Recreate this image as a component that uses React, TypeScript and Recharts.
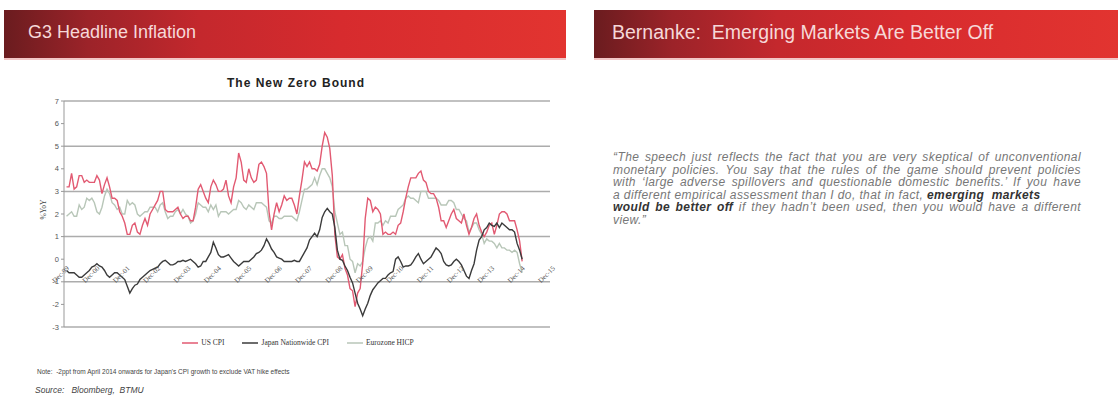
import { LineChart, Line, XAxis, YAxis, CartesianGrid } from 'recharts';

// x axis labels, one per year
const tickLabels = [
  'Dec-99', 'Dec-00', 'Dec-01', 'Dec-02', 'Dec-03', 'Dec-04', 'Dec-05', 'Dec-06', 'Dec-07',
  'Dec-08', 'Dec-09', 'Dec-10', 'Dec-11', 'Dec-12', 'Dec-13', 'Dec-14', 'Dec-15',
];
const yTicks = [-3, -2, -1, 0, 1, 2, 3, 4, 5, 6, 7];

// monthly %YoY, Jan-00 .. Jan-15
const usCpi = [
  3.2, 3.2, 3.8, 3.1, 3.2, 3.7, 3.7, 3.4, 3.5, 3.4, 3.4, 3.4,
  3.7, 3.5, 2.9, 3.3, 3.6, 3.2, 2.7, 2.7, 2.6, 2.1, 1.9, 1.6,
  1.1, 1.1, 1.5, 1.6, 1.2, 1.1, 1.5, 1.8, 1.5, 2.0, 2.2, 2.4,
  2.6, 3.0, 3.0, 2.2, 2.1, 2.1, 2.1, 2.2, 2.3, 2.0, 1.8, 1.9,
  1.9, 1.7, 1.7, 2.3, 3.1, 3.3, 3.0, 2.7, 2.5, 3.2, 3.5, 3.3,
  3.0, 3.0, 3.1, 3.5, 2.8, 2.5, 3.2, 3.6, 4.7, 4.3, 3.5, 3.4,
  4.0, 3.6, 3.4, 3.5, 4.2, 4.3, 4.1, 3.8, 2.1, 1.3, 2.0, 2.5,
  2.1, 2.4, 2.8, 2.6, 2.7, 2.7, 2.4, 2.0, 2.8, 3.5, 4.3, 4.1,
  4.3, 4.0, 4.0, 3.9, 4.2, 5.0, 5.6, 5.4, 4.9, 3.7, 1.1, 0.1,
  0.0, 0.2, -0.4, -0.7, -1.3, -1.4, -2.1, -1.5, -1.3, -0.2, 1.8, 2.7,
  2.6, 2.1, 2.3, 2.2, 2.0, 1.1, 1.2, 1.1, 1.1, 1.2, 1.1, 1.5,
  1.6, 2.1, 2.7, 3.2, 3.6, 3.6, 3.6, 3.8, 3.9, 3.5, 3.4, 3.0,
  2.9, 2.9, 2.7, 2.3, 1.7, 1.7, 1.4, 1.7, 2.0, 2.2, 1.8, 1.7,
  1.6, 2.0, 1.5, 1.1, 1.4, 1.8, 2.0, 1.5, 1.2, 1.0, 1.2, 1.5,
  1.6, 1.1, 1.5, 2.0, 2.1, 2.1, 2.0, 1.7, 1.7, 1.7, 1.3, 0.8,
  -0.1,
];
const japanCpi = [
  -0.5, -0.6, -0.6, -0.6, -0.7, -0.8, -0.8, -0.7, -0.6, -0.5, -0.35, -0.3,
  -0.2, -0.3, -0.35, -0.5, -0.7, -0.8, -0.7, -0.6, -0.6, -0.7, -0.8, -0.9,
  -1.2, -1.5, -1.3, -1.15, -1.1, -0.9, -0.8, -0.7, -0.6, -0.5, -0.45, -0.4,
  -0.35, -0.2, -0.1, -0.05, -0.15, -0.25, -0.25, -0.2, -0.1, -0.1, -0.05, -0.1,
  -0.05, 0.0, -0.1, -0.2, -0.35, -0.3, -0.1, -0.1, 0.1, 0.3, 0.75, 0.5,
  0.2, 0.1, 0.1, 0.15, 0.2, 0.05, -0.1, -0.2, -0.3, -0.2, -0.1, -0.1,
  -0.1, 0.0, 0.1, 0.25, 0.3, 0.4, 0.6, 0.9, 0.7, 0.45, 0.3, 0.1,
  0.05, 0.0, -0.1, -0.1, -0.1, -0.1, -0.05, -0.1, -0.1, 0.1, 0.3, 0.5,
  0.85, 1.0, 1.15, 1.0, 1.3, 1.85, 2.1, 2.25, 2.1, 2.0, 1.4, 0.4,
  0.0, -0.05, -0.3, -0.5, -0.8, -1.05, -1.5, -1.95, -2.2, -2.5, -2.2, -1.95,
  -1.6, -1.35, -1.2, -1.05, -0.95, -0.85, -0.85, -0.7, -0.6, -0.55, 0.0, 0.1,
  -0.1, -0.35, -0.3, -0.3, -0.25, -0.1, 0.1, 0.25, 0.0, -0.2, -0.1, 0.0,
  0.1, 0.3, 0.5, 0.4, 0.25, -0.1, -0.25, -0.3, -0.25, -0.1, 0.0, -0.1,
  -0.25, -0.5, -0.75, -0.85, -0.5, -0.2, 0.4, 0.85, 1.0, 1.3, 1.4, 1.6,
  1.5, 1.45, 1.6, 1.4, 1.6, 1.5, 1.4, 1.3, 1.3, 1.2, 0.7, 0.4,
  0.0,
];
const euroHicp = [
  1.9, 2.0, 2.1, 1.9, 1.9, 2.4, 2.2, 2.3, 2.7, 2.6, 2.7, 2.5,
  2.1, 2.0, 2.3, 2.8, 3.1, 2.9, 2.5, 2.4, 2.2, 2.3, 2.0, 2.0,
  2.6, 2.4, 2.5, 2.4, 2.0, 1.9, 2.0, 2.1, 2.1, 2.3, 2.3, 2.3,
  2.1, 2.4, 2.5, 2.1, 1.8, 1.9, 1.9, 2.1, 2.2, 2.0, 2.2, 2.0,
  1.9, 1.6, 1.7, 2.0, 2.5, 2.4, 2.3, 2.3, 2.1, 2.4, 2.2, 2.4,
  1.9, 2.1, 2.1, 2.1, 2.0, 2.1, 2.2, 2.2, 2.6, 2.5, 2.3, 2.2,
  2.4, 2.3, 2.2, 2.5, 2.5, 2.5, 2.4, 2.3, 1.7, 1.6, 1.9, 1.9,
  1.8, 1.8, 1.9, 1.9, 1.9, 1.9, 1.8, 1.7, 2.1, 2.6, 3.1, 3.1,
  3.2, 3.3, 3.6, 3.3, 3.7, 4.0, 4.0, 3.8, 3.6, 3.2, 2.1, 1.6,
  1.1, 1.2, 0.6, 0.6, 0.0, -0.1, -0.6, -0.2, -0.3, -0.1, 0.5, 0.9,
  1.0, 0.8, 1.6, 1.6, 1.7, 1.5, 1.7, 1.6, 1.9, 1.9, 1.9, 2.2,
  2.3, 2.4, 2.7, 2.8, 2.7, 2.7, 2.6, 2.5, 3.0, 3.0, 3.0, 2.7,
  2.7, 2.7, 2.7, 2.6, 2.4, 2.4, 2.4, 2.6, 2.6, 2.5, 2.2, 2.2,
  2.0, 1.8, 1.7, 1.2, 1.4, 1.6, 1.6, 1.3, 1.1, 0.7, 0.9, 0.8,
  0.8, 0.7, 0.5, 0.7, 0.5, 0.5, 0.4, 0.4, 0.3, 0.4, 0.3, -0.2,
  -0.6,
];

const seriesNames = ['US CPI', 'Japan Nationwide CPI', 'Eurozone HICP'];
const seriesColors = ['#e25a72', '#3b3b3b', '#b8c6b8'];

const data = usCpi.map((v, i) => ({ m: i + 1, us: v, jp: japanCpi[i], eu: euroHicp[i] }));

const PLOT_H = 226;
const ZERO_SHIFT = (PLOT_H * 3) / 10; // date labels sit under the 0 line

const DateTick = (props: any) => {
  const { x, y, payload } = props;
  return (
    <g transform={`translate(${x + 2},${y - ZERO_SHIFT + 6})`}>
      <text x={0} y={0} dy={5} textAnchor="end" transform="rotate(-45)" fontSize={7} fill="#555" fontFamily="Liberation Serif">
        {tickLabels[payload.value / 12]}
      </text>
    </g>
  );
};

const barStyle: any = {
  position: 'absolute',
  top: 10,
  height: 48,
  background: 'linear-gradient(90deg, #6a1c1f 0%, #9c2329 15%, #c4282d 35%, #d72b2e 60%, #e23430 100%)',
  color: '#f6d8d8',
  fontFamily: 'Liberation Sans',
  lineHeight: '45px',
  boxShadow: '0 2px 0 #f2c6c6',
  boxSizing: 'border-box',
};

const quoteLine: any = { textAlign: 'justify', textAlignLast: 'justify', whiteSpace: 'nowrap' };
const boldQ: any = { color: '#333', fontWeight: 'bold' };

export default function App() {
  return (
    <div style={{ position: 'absolute', left: 0, top: 0, width: 1118, height: 397, background: '#fff', overflow: 'hidden' }}>
      <div style={{ ...barStyle, left: 4, width: 562, paddingLeft: 24, fontSize: 18 }}>G3 Headline Inflation</div>
      <div style={{ ...barStyle, left: 594, width: 524, paddingLeft: 18, fontSize: 19.5 }}>
        Bernanke:&nbsp; Emerging Markets Are Better Off
      </div>

      <div style={{ position: 'absolute', left: 200, width: 192, top: 76, textAlign: 'center', fontFamily: 'Liberation Sans', fontWeight: 'bold', fontSize: 12, letterSpacing: 1, color: '#222' }}>
        The New Zero Bound
      </div>

      <div style={{ position: 'absolute', left: 0, top: 0 }}>
        <LineChart width={570} height={397} data={data} margin={{ top: 101, right: 20, bottom: 60, left: 0 }}>
          <CartesianGrid vertical={false} stroke="#acacac" strokeWidth={1.5} />
          <XAxis
            type="number"
            dataKey="m"
            domain={[0, 192]}
            ticks={tickLabels.map((_, i) => i * 12)}
            height={10}
            axisLine={false}
            tickLine={false}
            tickSize={0}
            tickMargin={0}
            interval={0}
            tick={<DateTick />}
          />
          <YAxis
            domain={[-3, 7]}
            ticks={yTicks}
            width={64}
            axisLine={{ stroke: '#999' }}
            tickLine={{ stroke: '#999' }}
            tickSize={3}
            tick={{ fontSize: 7.5, fill: '#555', fontFamily: 'Liberation Sans' }}
          />
          <Line dataKey="eu" stroke={seriesColors[2]} strokeWidth={1.4} dot={false} isAnimationActive={false} />
          <Line dataKey="us" stroke={seriesColors[0]} strokeWidth={1.4} dot={false} isAnimationActive={false} />
          <Line dataKey="jp" stroke={seriesColors[1]} strokeWidth={1.4} dot={false} isAnimationActive={false} />
        </LineChart>
      </div>

      <div style={{ position: 'absolute', left: 25, top: 205, width: 36, textAlign: 'center', transform: 'rotate(-90deg)', fontFamily: 'Liberation Serif', fontSize: 7.5, color: '#444' }}>
        %YoY
      </div>

      <div style={{ position: 'absolute', left: 0, width: 596, top: 338, display: 'flex', justifyContent: 'center', gap: 18, fontFamily: 'Liberation Serif', fontSize: 7.5, color: '#333' }}>
        {seriesNames.map((n, i) => (
          <span key={n} style={{ display: 'flex', alignItems: 'center', gap: 3 }}>
            <svg width={16} height={4}><line x1={0} y1={2} x2={16} y2={2} stroke={seriesColors[i]} strokeWidth={1.5} /></svg>
            {n}
          </span>
        ))}
      </div>

      <div style={{ position: 'absolute', left: 37, top: 368, fontFamily: 'Liberation Sans', fontSize: 6.5, color: '#444' }}>
        Note:&nbsp; -2ppt from April 2014 onwards for Japan's CPI growth to exclude VAT hike effects
      </div>
      <div style={{ position: 'absolute', left: 35, top: 385, fontFamily: 'Liberation Sans', fontStyle: 'italic', fontSize: 8.5, color: '#444' }}>
        Source:&nbsp;&nbsp; Bloomberg,&nbsp; BTMU
      </div>

      <div style={{ position: 'absolute', left: 613, top: 151, width: 468, fontFamily: 'Liberation Sans', fontStyle: 'italic', fontSize: 12, letterSpacing: 0.4, lineHeight: '12.6px', color: '#777' }}>
        <div style={quoteLine}>“The speech just reflects the fact that you are very skeptical of unconventional</div>
        <div style={quoteLine}>monetary policies. You say that the rules of the game should prevent policies</div>
        <div style={quoteLine}>with ‘large adverse spillovers and questionable domestic benefits.’ If you have</div>
        <div style={{ whiteSpace: 'nowrap' }}>
          a different empirical assessment than I do, that in fact, <span style={boldQ}>emerging&nbsp; markets</span>
        </div>
        <div style={quoteLine}>
          <span style={boldQ}>would be better off</span> if they hadn’t been used, then you would have a different
        </div>
        <div>view.”</div>
      </div>
    </div>
  );
}
